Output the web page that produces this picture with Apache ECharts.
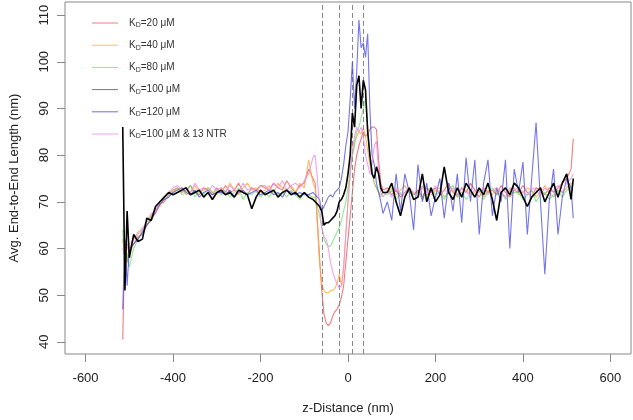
<!DOCTYPE html>
<html>
<head>
<meta charset="utf-8">
<script src="https://cdn.jsdelivr.net/npm/echarts@6/dist/echarts.min.js"></script>
<style>html,body{margin:0;padding:0;background:#fff}#c{width:633px;height:420px}</style>
</head>
<body>
<div id="c"></div>
<script>
const zDist = [
 -515,-510,-505,-500,
 -490,-480,-470,-460,-450,-440,-430,-420,-410,-400,
 -390,-380,-370,-360,-350,-340,-330,-320,-310,-300,
 -290,-280,-270,-260,-250,-240,-230,-220,-210,-200,
 -190,-180,-170,-160,-150,-140,-130,-120,-110,-100,
 -90,-80,
 -75,-70,-65,-60,-55,-50,-45,-40,-35,-30,-25,-20,-15,-10,-5,0,
 5,10,15,20,25,30,35,40,45,50,55,60,65,70,75,80,
 90,100,110,120,130,140,150,160,170,180,
 190,200,210,220,230,240,250,260,270,280,
 290,300,310,320,330,340,350,360,370,380,
 390,400,410,420,430,440,450,460,470,480,
 490,500,510,515];

const kd20 = [
 40.5,62,57,59,
 61,62.5,63,65,66.5,67.5,69.5,70,71.5,72.5,
 73,72,72.5,73.5,72,71.5,73,72.5,71.5,73,
 72,73.5,72,72.5,74,72,71.5,73,72.5,73.5,
 73,72.5,74,73,72.5,74.5,73,72,73.5,74,
 77,75,
 74,66,58,51,46,44,43.5,44,45.5,46.5,47,48,49.5,52,57,62,
 67,72,77,80,82,83.5,85,84,84.5,85.5,86,86,85.5,79,74,72.5,
 73,71.5,72.5,71,72,73,71.5,72.5,71,73,
 72,73,71.5,72.5,74,72,71.5,73,72,74,
 72.5,71,73,72,72.5,71.5,73.5,72,71,72.5,
 72,73.5,72,71,73,72.5,71.5,73,72,73,
 74,75,77,83.5];

const kd40 = [
 62,58,60,61,
 62,63,64.5,65,67,68.5,69,71,72,72.5,
 72.5,73,71.5,72,73.5,72,72.5,73,72,71.5,
 73,72,74,72.5,71.5,73,74,72.5,73,72,
 72.5,73.5,72,74,73,72.5,73.5,72,74,73,
 79,74,
 73,65,57,52.5,51,50.5,50.5,51,51,51.5,52.5,54.5,52,56,63,70,
 76,80,83,84,85,84.5,86,84,81,78,76,74,73,72,71.5,72,
 72,73,71.5,72.5,73.5,72,71.5,72,73,71.5,
 71.5,72.5,73,71,72,72.5,71,73,72.5,71.5,
 72,73,71,72.5,71.5,73,72,71,72.5,73,
 71.5,72,73,72.5,71,72,73.5,72,71,72.5,
 72,73,74,73.5];

const kd80 = [
 64,55,59,56,
 60,62,64,65.5,67,68,70,70.5,71,72,
 73,71.5,72,73.5,71,72.5,71.5,73,72,72.5,
 71.5,72.5,71,72,73,70.5,72,71.5,72.5,71,
 72,71,72.5,71.5,72,71,72.5,71.5,70.5,72,
 71.5,71,
 71,69,67,64.5,62,61,60.5,60.5,61.5,62.5,63.5,64.5,66,68,70,73,
 77,80,82,85,86,88,90,92,86,80,77,74,73,72,71,72,
 71.5,72.5,70.5,72,71,73,71.5,72,70.5,72.5,
 73,71.5,72,70.5,72.5,73.5,71,72,70.5,72,
 71,72.5,70.5,72,73,71.5,72,70.5,71.5,72,
 72,70.5,71.5,72.5,70,71.5,72,70.5,71.5,72.5,
 71,72.5,73,74];

const kd100 = [
 86,51,68,58,
 63,61.5,62,66.5,66,69,70,71,72,71.5,
 72,72.5,73,71.5,72,72.5,71,72,70.5,72,
 72.5,71.5,72,71,72.5,72,71.5,68.5,71,72.5,
 71.5,72,72.5,71,72,72.5,71.5,72,71,72,
 71,70.5,
 70,69.5,69,68,65,65.5,65.5,66,66.5,67,68,70,70.5,71.5,73,76,
 80,89,86,95,97,90,96,94,85,80,76,75,77.5,76,73,72,
 72,74,70,67,71,73,70.5,71,76,70,
 73,70,71.5,77.5,72,70.5,73,71,74,72.5,
 71,73,71.5,74,70.5,66,72,73,71.5,74,
 73,71,69,71,72,73,70,72,74,71,
 74,76,70.5,75];

const kd120 = [
 47,62,52,60,
 61,62,63.5,65,66,68,69.5,70.5,71,72,
 72.5,73,72,71.5,72.5,71,72,72.5,71.5,72,
 72,71.5,72.5,71,72,72.5,71.5,72,72.5,71.5,
 72,72.5,71.5,72,71,72.5,72,71.5,72,71.5,
 71.5,72,
 71.5,71,70.5,68,69,70,71,71.5,71,72,72.5,73,75,78,82,85,
 92,100,90,98,109,103,104,101,106,90,80,78,74,72,70,67.5,
 70,66,76,68,76,72,64,78,70,74,
 67,71,75,66.5,74,68,76,65.5,79.5,70,
 79,63,74,79,67,73,70,79,60,77,
 72,78.5,63,75,87,70,54.5,70,77,63,
 71,75,73,66.5];

const kd100ntr = [
 60,58,61,60,
 62,63.5,64,66,67.5,68,70,71,72,73,
 73.5,72.5,73,72,74,72.5,73,72,73.5,72.5,
 73,72,73.5,72.5,72,74,72.5,73,72,73.5,
 73.5,72.5,74,73,74.5,72.5,73.5,74,73,74.5,
 76,79.5,
 80,75,69,64.5,62.5,62,60,57,55,53.5,52.5,51.5,52,56,63,70,
 76,81,84,86,85,86,84,80,78,76,78,82,83,76,72,71,
 72.5,71,73,71.5,72,73,72,71,73.5,72,
 72,73.5,71.5,72.5,72,73,71.5,73,72,71.5,
 72.5,72,73,71.5,72.5,73,72,71,73,72.5,
 73,72,71.5,73,72.5,71.5,73,72,72.5,73.5,
 72,74,75,76];

const seriesNames = ['KD=20 μM','KD=40 μM','KD=80 μM','KD=100 μM','KD=120 μM','KD=100 μM & 13 NTR'];
const xTicks = [-600,-400,-200,0,200,400,600];
const yTicks = [40,50,60,70,80,90,100,110];
const boundaries = [-60,-20,10,35];

const FONT = 'Liberation Sans';
const pair = arr => zDist.map((x,i)=>[x,arr[i]]);

const defs = [
  {name: seriesNames[0], data: kd20, color:'rgba(240,90,90,0.8)', w:1.1, z:2},
  {name: seriesNames[1], data: kd40, color:'rgba(255,170,60,0.8)', w:1.1, z:3},
  {name: seriesNames[2], data: kd80, color:'rgba(100,225,100,0.7)', w:1.1, z:4},
  {name: seriesNames[4], data: kd120, color:'rgba(70,70,230,0.75)', w:1.1, z:5},
  {name: seriesNames[5], data: kd100ntr, color:'rgba(235,140,235,0.8)', w:1.1, z:6},
  {name: seriesNames[3], data: kd100, color:'#000000', w:1.6, z:7}
];

const series = defs.map((d,i)=>({
  type:'line', name:d.name, data:pair(d.data), showSymbol:false, symbol:'none',
  lineStyle:{color:d.color, width:d.w}, itemStyle:{color:d.color}, z:d.z,
  animation:false, silent:true
}));
series[0].markLine = {
  silent:true, symbol:'none', label:{show:false}, animation:false,
  lineStyle:{color:'#888', type:[5,3], width:1},
  data: boundaries.map(v=>({xAxis:v}))
};

const legendStyles = {
  'KD=20 μM':{color:'rgba(240,90,90,0.8)'},
  'KD=40 μM':{color:'rgba(255,170,60,0.8)'},
  'KD=80 μM':{color:'rgba(100,225,100,0.75)'},
  'KD=100 μM':{color:'#777'},
  'KD=120 μM':{color:'rgba(70,70,230,0.8)'},
  'KD=100 μM & 13 NTR':{color:'rgba(235,140,235,0.8)'}
};

const chart = echarts.init(document.getElementById('c'), null, {renderer:'canvas'});
chart.setOption({
  animation:false,
  backgroundColor:'#fff',
  textStyle:{fontFamily:FONT},
  grid:{left:62, right:2, top:2, bottom:66, show:true, borderColor:'#888', borderWidth:1, backgroundColor:'transparent'},
  legend:{
    orient:'vertical', left:87, top:13, itemWidth:26, itemHeight:14, itemGap:11.2,
    data: seriesNames.map(n=>({name:n, icon:'path://M0,6.5 L26,6.5 L26,7.5 L0,7.5 Z', itemStyle:{color:legendStyles[n].color}})),
    formatter: n => '{k|K}{d|D}{t|' + n.slice(2) + '}',
    textStyle:{color:'#333', fontFamily:FONT,
      rich:{
        k:{fontSize:10, lineHeight:12, padding:[0,0,0,6], color:'#333', fontFamily:FONT},
        d:{fontSize:7, lineHeight:6, verticalAlign:'bottom', color:'#333', fontFamily:FONT},
        t:{fontSize:10, lineHeight:12, color:'#333', fontFamily:FONT}
      }
    },
    selectedMode:false
  },
  xAxis:{
    type:'value', min:-647, max:647,
    name:'z-Distance (nm)', nameLocation:'middle', nameGap:48,
    nameTextStyle:{fontSize:13, color:'#222', fontFamily:FONT},
    axisLine:{show:false, onZero:false},
    axisTick:{show:true, inside:false, length:8, lineStyle:{color:'#888'}, customValues:xTicks},
    axisLabel:{fontSize:13, color:'#222', margin:18, fontFamily:FONT, customValues:xTicks},
    splitLine:{show:false}
  },
  yAxis:{
    type:'value', min:37.4, max:112.8,
    name:'Avg. End-to-End Length (nm)', nameLocation:'middle', nameGap:44,
    nameTextStyle:{fontSize:13, color:'#222', fontFamily:FONT},
    axisLine:{show:false, onZero:false},
    axisTick:{show:true, inside:false, length:8, lineStyle:{color:'#888'}, customValues:yTicks},
    axisLabel:{fontSize:13, color:'#222', margin:14, rotate:90, fontFamily:FONT, customValues:yTicks},
    splitLine:{show:false}
  },
  series: series
});
</script>
</body>
</html>
